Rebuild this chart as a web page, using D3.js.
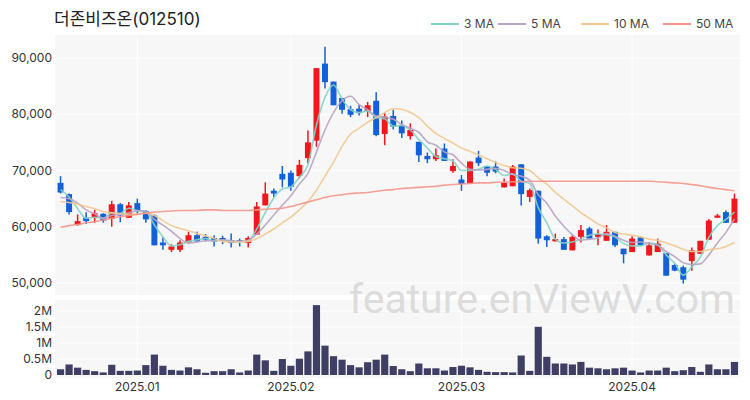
<!DOCTYPE html>
<html><head><meta charset="utf-8">
<script src="https://cdn.jsdelivr.net/npm/d3@7"></script>
<style>body{margin:0;background:#fff;font-family:Inter,"Noto Sans CJK KR",sans-serif}</style>
</head><body><svg id="c" width="750" height="400"></svg>
<script>
const open_=[67800,65800,60300,61600,61600,62300,61400,64000,61600,64200,62800,62000,57200,55900,55900,57300,58500,58200,58000,58000,57600,57600,57100,58600,63800,66400,69400,69600,69000,72200,75300,89000,85800,82900,80900,81000,80500,82400,76500,79700,78100,76100,75100,72600,72000,73900,69900,68400,67700,72300,70800,70700,67000,67200,71100,65300,66400,58300,57400,57800,55800,58200,59700,58200,57500,59100,56100,55500,58100,54900,55500,55300,53200,52800,53900,55200,57700,61600,62600,60700];
const close_=[66100,62600,61000,61000,62400,61100,64000,62000,63800,62900,61300,56700,56700,56500,57200,58500,57400,57700,57400,57600,57100,57300,58000,63600,65900,65900,68400,67100,71000,75000,88200,85700,81600,80800,79900,80200,81600,76300,79600,77800,76600,77200,72700,72000,72700,71700,70800,67600,71600,71300,69600,69800,67800,70700,65800,66500,57900,57600,57800,55900,58200,59400,57900,58700,59100,56700,55100,57900,56700,56700,57000,51300,52200,50600,55800,57500,61100,62000,60700,65000];
const high_=[69000,65900,62200,62600,63000,62400,64600,64200,64400,65000,63000,62200,58200,56900,57600,59100,59100,58700,58500,58400,58800,57900,58300,64400,67900,66800,70800,70000,71900,77100,88200,92000,85800,82900,81500,81700,82200,83900,80200,80800,78900,78400,75100,73200,73900,74800,72000,69200,71600,73500,70800,71600,68600,71000,71100,66800,66400,58500,58800,58200,58500,60300,60000,59500,60300,59100,56100,58300,58300,57300,57900,55300,53500,53100,56300,57500,61400,62300,62900,65900];
const low_=[65900,62200,60200,60500,60700,60700,60000,60800,61600,62200,60700,56700,55900,55500,55500,57000,57200,57400,56500,56900,56300,56500,56300,58600,63800,65300,67000,66400,68600,71300,74200,84600,81600,80100,79500,79800,79500,76100,74500,77300,75800,75500,71500,71300,71700,71700,69600,66400,67700,70800,69000,69500,67000,67200,63800,64400,57000,56400,57400,55900,55800,57200,57700,56700,57500,56400,53500,55500,56700,54900,55500,51300,52100,49900,52200,55200,57700,61600,60700,60700];
const volume=[0.18,0.33,0.23,0.16,0.12,0.08,0.32,0.13,0.13,0.14,0.31,0.64,0.29,0.16,0.14,0.24,0.18,0.07,0.12,0.12,0.18,0.08,0.14,0.64,0.46,0.13,0.50,0.29,0.51,0.74,2.19,0.92,0.59,0.48,0.31,0.24,0.40,0.48,0.64,0.28,0.18,0.12,0.36,0.21,0.21,0.14,0.25,0.29,0.24,0.16,0.10,0.09,0.09,0.08,0.61,0.13,1.51,0.57,0.36,0.36,0.33,0.41,0.23,0.21,0.18,0.21,0.23,0.14,0.08,0.14,0.14,0.23,0.12,0.15,0.25,0.10,0.33,0.18,0.18,0.41];
const ma3=[66600,65300,63200,61500,61700,61500,62500,62400,63300,62900,62700,60300,58200,56600,56800,57400,57700,57900,57500,57600,57400,57300,57500,59600,62500,65100,66700,67100,68800,71000,78100,83000,85200,82700,80800,80300,80600,79400,79200,77900,78000,77200,75500,74000,72500,72100,71700,70000,70000,70200,70800,70200,69100,69400,68100,67700,63400,60700,57800,57100,57300,57800,58500,58700,58600,58200,57000,56600,56600,57100,56800,55000,53500,51400,52900,54600,58100,60200,61300,62600];
const ma5=[65200,65000,64200,63000,62300,61500,62000,62200,62500,62800,62800,61300,60300,59200,57900,57100,57300,57500,57500,57700,57500,57400,57600,58700,60300,62100,63800,65500,67600,69500,73300,77200,80300,82400,83200,81700,80800,79700,79500,79100,78200,77500,76800,75100,74500,73300,72800,71300,70200,70100,70200,70400,70000,69300,69000,68300,65700,64200,61900,60100,58600,57600,57800,58000,58800,58300,57600,57200,57300,57000,56700,55600,54700,53600,53300,53400,55000,57100,59000,61400];
const ma10=[64500,64300,64000,63600,63200,62700,62500,62300,62200,62300,62400,62000,61100,60200,59700,59300,58800,58400,57900,57400,57300,57300,57400,57900,58700,59600,60700,61700,63000,64500,66500,69000,71500,74300,76500,77500,78600,79400,80300,81000,80900,80300,79400,77900,76600,75700,74900,74000,73400,72800,72100,71400,70900,70500,70400,70000,68700,67600,66100,64900,63700,62500,61500,60500,59800,59000,58700,58500,58200,57800,57600,57100,56600,56000,55600,55600,55900,56100,56500,57200];
const ma50=[59900,60200,60400,60700,60900,61200,61500,61800,62000,62200,62400,62600,62700,62800,62900,62900,62900,63000,63000,62900,62900,62900,62900,63000,63100,63200,63300,63600,64000,64400,64800,65200,65500,65700,65900,66000,66100,66300,66500,66600,66800,66900,67000,67100,67200,67400,67500,67600,67700,67800,67800,67900,67900,68000,68000,68100,68100,68100,68100,68100,68100,68100,68100,68100,68100,68100,68100,68100,68100,68100,68000,67900,67800,67700,67500,67300,67000,66800,66600,66400];
const monthTicks=[{i:9,label:"2025.01"},{i:27,label:"2025.02"},{i:47,label:"2025.03"},{i:67,label:"2025.04"}];
const priceTicks=[50000,60000,70000,80000,90000];
const volTicks=[0,0.5,1,1.5,2];
const volLabels=["0","0.5M","1M","1.5M","2M"];
const maSeries=[{name:"3 MA",data:ma3,color:"#82d4c6"},{name:"5 MA",data:ma5,color:"#b7a4c4"},{name:"10 MA",data:ma10,color:"#f2c890"},{name:"50 MA",data:ma50,color:"#f5968a"}];

const svg=d3.select("#c");
const L=55,R=740,T=35,B=295,VT=300,VB=378;
const idx=d3.range(open_.length);
const x=d3.scaleBand().domain(idx).range([L,R]).padding(0.3);
const xc=i=>x(i)+x.bandwidth()/2;
const y=d3.scaleLinear().domain([47867,94089]).range([B,T]);
const yv=d3.scaleLinear().domain([0,2.35]).range([375,300]);

svg.append("rect").attr("x",L).attr("y",T).attr("width",R-L).attr("height",B-T).attr("fill","#f7f7f7");
svg.append("rect").attr("x",L).attr("y",VT).attr("width",R-L).attr("height",VB-VT).attr("fill","#f7f7f7");
monthTicks.forEach(t=>{svg.append("line").attr("x1",xc(t.i)).attr("x2",xc(t.i)).attr("y1",T).attr("y2",B).attr("stroke","#fff").attr("stroke-width",1);
 svg.append("line").attr("x1",xc(t.i)).attr("x2",xc(t.i)).attr("y1",VT).attr("y2",VB).attr("stroke","#fff");
 svg.append("text").attr("x",xc(t.i)).attr("y",391).attr("text-anchor","middle").attr("font-size",12).attr("fill","#333").text(t.label);});
priceTicks.forEach(p=>{svg.append("line").attr("x1",L).attr("x2",R).attr("y1",y(p)).attr("y2",y(p)).attr("stroke","#fff");
 svg.append("text").attr("x",L-3).attr("y",y(p)+4).attr("text-anchor","end").attr("font-size",12).attr("fill","#333").text(d3.format(",")(p));});
volTicks.forEach((v,k)=>{svg.append("line").attr("x1",L).attr("x2",R).attr("y1",yv(v)).attr("y2",yv(v)).attr("stroke","#fff");
 svg.append("text").attr("x",L-3).attr("y",yv(v)+4).attr("text-anchor","end").attr("font-size",12).attr("fill","#333").text(volLabels[k]);});
svg.append("text").attr("x",735).attr("y",313).attr("text-anchor","end").attr("font-size",41).attr("fill","#dcdcdc").attr("font-family","Roboto,sans-serif").text("feature.enViewV.com");
svg.selectAll(".v").data(idx).join("rect").attr("x",i=>x(i)-0.6).attr("width",x.bandwidth()+1.2).attr("y",i=>yv(volume[i])).attr("height",i=>yv(0)-yv(volume[i])).attr("fill","#3f3f66");
const col=i=>close_[i]>=open_[i]?"#f2171c":"#1460d8";
svg.selectAll(".w").data(idx).join("line").attr("x1",xc).attr("x2",xc).attr("y1",i=>y(high_[i])).attr("y2",i=>y(low_[i])).attr("stroke",col).attr("stroke-width",1.5);
svg.selectAll(".b").data(idx).join("rect").attr("x",x).attr("width",x.bandwidth()).attr("y",i=>y(Math.max(open_[i],close_[i]))).attr("height",i=>Math.max(1.5,Math.abs(y(open_[i])-y(close_[i])))).attr("fill",col);
const line=d=>d3.line().x((v,i)=>xc(i)).y(v=>y(v)).curve(d3.curveMonotoneX)(d);
maSeries.forEach(s=>svg.append("path").attr("d",line(s.data)).attr("fill","none").attr("stroke",s.color).attr("stroke-width",1.6).attr("opacity",0.9));
svg.append("text").attr("x",54).attr("y",25).attr("font-size",17).attr("fill","#222").text("더존비즈온(012510)");
maSeries.forEach((s,k)=>{const gx=[431,498,581,663][k];
 svg.append("line").attr("x1",gx).attr("x2",gx+28).attr("y1",24).attr("y2",24).attr("stroke",s.color).attr("stroke-width",2);
 svg.append("text").attr("x",gx+33).attr("y",28).attr("font-size",12).attr("fill","#444").text(s.name);});
</script></body></html>
